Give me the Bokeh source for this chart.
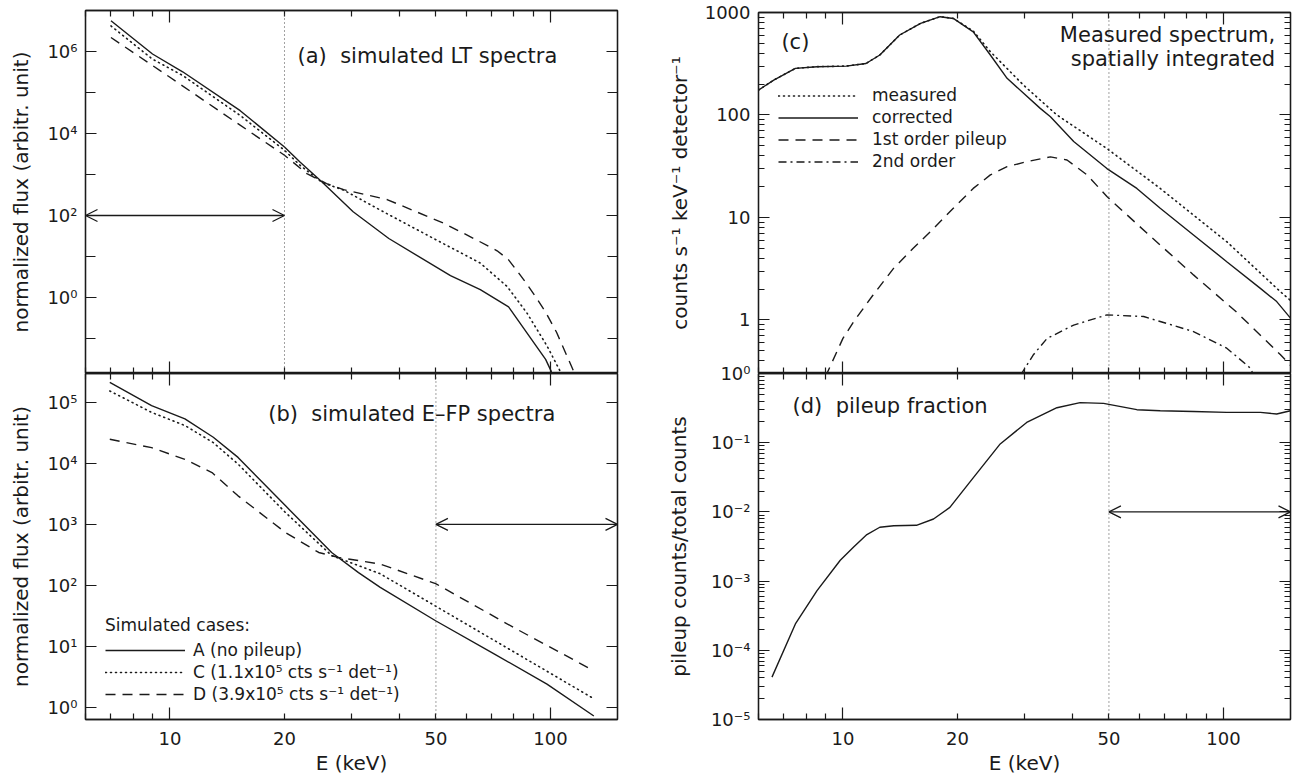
from bokeh.plotting import figure
from bokeh.models import (Range1d, LogAxis, FixedTicker, Span, Arrow, OpenHead, Label,
                          Legend, LegendItem, CustomJSTickFormatter)
from bokeh.layouts import row, column
from bokeh.embed import file_html
from bokeh.resources import INLINE

FONT = "DejaVu Sans"
INK = "#1a1a1a"

# ---------------- shared energy axis ----------------
x_range_keV = [6, 150]
x_ticks = [10, 20, 50, 100]
x_tick_labels = ["10", "20", "50", "100"]
x_decades = [10, 100]
x_minor = [6, 7, 8, 9, 20, 30, 40, 50, 60, 70, 80, 90]

# ---------------- panel (a): simulated LT spectra ----------------
a_y_range = [0.014, 1e7]
a_yticks = [1, 1e2, 1e4, 1e6]
a_ytick_labels = ["10⁰", "10²", "10⁴", "10⁶"]
a_yminor = [0.1, 10, 1e3, 1e5, 1e7]
a_E_A = [7.0, 9.0, 10.8, 15.3, 20.0, 22.0, 25.1, 30.3, 37.6, 54.6, 65.4, 77.6, 97.1, 100.4, 101.5]
a_F_A = [5.6e6, 8.7e5, 3.2e5, 3.6e4, 4.7e3, 2.0e3, 660, 123, 27.5, 3.4, 1.55, 0.59, 0.031, 0.016, 0.010]
a_E_C = [7.0, 9.0, 10.8, 15.3, 20.0, 22.0, 25.1, 28.6, 36.4, 49.3, 65.4, 76.9, 86.7, 98.0, 106.0, 107.5]
a_F_C = [4.2e6, 6.5e5, 2.6e5, 2.75e4, 3.9e3, 1.66e3, 640, 417, 123, 27.5, 6.9, 1.86, 0.42, 0.065, 0.016, 0.011]
a_E_D = [7.0, 10.0, 15.0, 20.0, 22.9, 25.8, 28.6, 37.2, 52.4, 64.1, 72.4, 77.6, 85.1, 90.3, 97.1, 103.8, 115.0, 116.5]
a_F_D = [2.2e6, 2.35e5, 1.8e4, 2.95e3, 1.05e3, 600, 427, 245, 65, 25, 13.8, 8.3, 2.7, 1.23, 0.44, 0.14, 0.016, 0.011]
a_vline_E = 20
a_arrow_E = [6, 20]
a_arrow_F = 100

# ---------------- panel (b): simulated E-FP spectra ----------------
b_y_range = [0.63, 3e5]
b_yticks = [1, 10, 1e2, 1e3, 1e4, 1e5]
b_ytick_labels = ["10⁰", "10¹", "10²", "10³", "10⁴", "10⁵"]
b_yminor = []
b_E_A = [6.95, 8.95, 10.95, 13.0, 15.1, 20.1, 26.6, 31.3, 35.7, 49.9, 70.9, 97.9, 130]
b_F_A = [2.14e5, 8.9e4, 5.4e4, 2.7e4, 1.26e4, 2.04e3, 347, 162, 93, 26.3, 7.6, 2.4, 0.72]
b_E_C = [6.95, 8.95, 10.95, 13.0, 15.1, 20.1, 26.6, 35.7, 49.9, 73.7, 97.9, 130]
b_F_C = [1.55e5, 6.9e4, 4.2e4, 2.2e4, 9.8e3, 1.58e3, 309, 155, 45.7, 11.0, 3.9, 1.38]
b_E_D = [6.95, 8.95, 10.95, 12.9, 15.1, 20.1, 24.6, 27.7, 35.7, 49.9, 80, 130]
b_F_D = [2.5e4, 1.82e4, 1.17e4, 7.1e3, 2.95e3, 741, 347, 288, 224, 107, 20.4, 3.98]
b_vline_E = 50
b_arrow_E = [50, 150]
b_arrow_F = 1000

# ---------------- panel (c): measured spectrum ----------------
c_y_range = [0.3, 1000]
c_yticks = [1, 10, 100, 1000]
c_ytick_labels = ["1", "10", "100", "1000"]
c_yminor = [k * 10.0 ** e for e in (-1, 0, 1, 2) for k in range(2, 10)]
c_E_corr = [6.0, 6.58, 7.5, 8.55, 10.2, 11.5, 12.5, 14.1, 16.0, 18.0, 19.5, 22.0, 24.4, 27.0,
            33.0, 35.1, 40.4, 49.4, 59.2, 68.2, 83.4, 102, 125, 138, 150]
c_F_corr = [175, 219, 285, 296, 300, 318, 385, 603, 784, 910, 875, 647, 385, 228,
            116, 96, 55, 30, 19.2, 12.3, 6.75, 3.7, 2.03, 1.51, 1.04]
c_E_meas = [6.0, 6.58, 7.5, 8.55, 10.2, 11.5, 12.5, 14.1, 16.0, 18.0, 19.5, 22.0, 24.4, 29.8,
            36.5, 49.4, 68.2, 102, 141, 150]
c_F_meas = [175, 219, 285, 296, 300, 318, 385, 603, 784, 910, 875, 660, 415, 196,
            100, 47, 19.2, 5.8, 1.89, 1.55]
c_E_pile1 = [9.0, 9.64, 10.0, 10.67, 12.0, 13.6, 15.3, 17.3, 19.5, 22.0, 24.4, 27.0, 30.4, 35.1,
             38.8, 43.8, 49.4, 63.0, 83.4, 108, 141, 150]
c_F_pile1 = [0.28, 0.49, 0.66, 0.96, 1.75, 3.2, 5.0, 7.8, 12.3, 19.2, 26, 31.3, 35, 39,
             36.4, 26, 16, 7.0, 2.75, 1.2, 0.46, 0.36]
c_E_pile2 = [29.3, 31.7, 34.4, 40.4, 49.4, 61.7, 83.4, 102, 117.5, 120]
c_F_pile2 = [0.29, 0.46, 0.66, 0.89, 1.12, 1.08, 0.77, 0.53, 0.34, 0.29]
c_vline_E = 50

# ---------------- panel (d): pileup fraction ----------------
d_y_range = [1e-5, 1]
d_yticks = [1e-5, 1e-4, 1e-3, 1e-2, 1e-1, 1]
d_ytick_labels = ["10⁻⁵", "10⁻⁴", "10⁻³", "10⁻²", "10⁻¹", "10⁰"]
d_yminor = [k * 10.0 ** e for e in (-5, -4, -3, -2, -1) for k in range(2, 10)]
d_E = [6.51, 7.5, 8.55, 9.84, 10.67, 11.56, 12.5, 13.6, 15.6, 17.3, 19.1, 21.6, 25.9, 30.4,
       36.5, 42.0, 48.4, 59.2, 68.2, 83.4, 102, 125, 138, 150]
d_frac = [4.1e-5, 2.4e-4, 7.3e-4, 2.0e-3, 3.1e-3, 4.7e-3, 6.0e-3, 6.3e-3, 6.4e-3, 7.9e-3, 0.0116,
          0.0274, 0.096, 0.196, 0.32, 0.38, 0.37, 0.30, 0.29, 0.283, 0.274, 0.274, 0.26, 0.29]
d_vline_E = 50
d_arrow_E = [50, 150]
d_arrow_F = 0.01

DOT = "1 4"
DASH = "10 7"
DASHDOT = "8 4 2 4"
LW = 1.4
SP2 = "\u00a0 "   # visible double space


def make_panel(width, height, yr, bl, br, bt, bb):
    p = figure(width=width, height=height, x_axis_type="log", y_axis_type="log",
               x_range=Range1d(x_range_keV[0], x_range_keV[1]), y_range=Range1d(yr[0], yr[1]),
               output_backend="svg", toolbar_location=None,
               min_border_left=bl, min_border_right=br, min_border_top=bt, min_border_bottom=bb)
    p.xgrid.visible = False
    p.ygrid.visible = False
    p.outline_line_color = INK
    p.outline_line_width = 1.3
    p.border_fill_alpha = 0
    p.background_fill_color = "white"
    return p


def style_axis(ax, ticks, minor, labels, major_len, minor_len, standoff=8, size="18px"):
    ax.ticker = FixedTicker(ticks=ticks, minor_ticks=minor)
    ax.major_tick_in = major_len
    ax.major_tick_out = 0
    ax.minor_tick_in = minor_len
    ax.minor_tick_out = 0
    ax.axis_line_color = INK
    ax.axis_line_width = 1.3
    ax.major_tick_line_color = INK
    ax.minor_tick_line_color = INK
    ax.major_tick_line_width = 1.2
    ax.minor_tick_line_width = 1.2
    if labels is None:
        ax.formatter = CustomJSTickFormatter(code="return ''")
        ax.major_label_text_font_size = "0px"
        ax.major_label_standoff = 0
    else:
        ax.major_label_overrides = dict(zip(ticks, labels))
        ax.major_label_text_font = FONT
        ax.major_label_text_font_size = size
        ax.major_label_text_color = INK
        ax.major_label_standoff = standoff
    ax.axis_label_text_font = FONT
    ax.axis_label_text_font_size = "20px"
    ax.axis_label_text_font_style = "normal"
    ax.axis_label_text_color = INK


def add_x_axes(p, labeled):
    style_axis(p.below[0], x_decades, x_minor, None, 12, 6)
    top = LogAxis()
    style_axis(top, x_decades, x_minor, None, 12, 6)
    p.add_layout(top, "above")
    if labeled:
        lab = LogAxis()
        lab.ticker = FixedTicker(ticks=x_ticks, minor_ticks=[])
        lab.major_label_overrides = dict(zip(x_ticks, x_tick_labels))
        lab.major_tick_in = 0
        lab.major_tick_out = 0
        lab.minor_tick_in = 0
        lab.minor_tick_out = 0
        lab.major_tick_line_color = None
        lab.minor_tick_line_color = None
        lab.axis_line_color = None
        lab.major_label_standoff = 12
        lab.major_label_text_font = FONT
        lab.major_label_text_font_size = "18px"
        lab.major_label_text_color = INK
        lab.axis_label = "E (keV)"
        lab.axis_label_standoff = 3
        lab.axis_label_text_font = FONT
        lab.axis_label_text_font_size = "20px"
        lab.axis_label_text_font_style = "normal"
        lab.axis_label_text_color = INK
        p.add_layout(lab, "below")


def add_y_axes(p, ticks, minor, labels, major_len, minor_len, title, title_standoff, standoff=8):
    left = p.left[0]
    style_axis(left, ticks, minor, labels, major_len, minor_len, standoff=standoff)
    left.axis_label = title
    left.axis_label_standoff = title_standoff
    right = LogAxis()
    style_axis(right, ticks, minor, None, major_len, minor_len)
    p.add_layout(right, "right")


def vline(p, loc):
    p.add_layout(Span(location=loc, dimension="height", line_color="#444444",
                      line_dash="1 3", line_width=1))


def double_arrow(p, xs, yv):
    p.add_layout(Arrow(start=OpenHead(size=12, line_color=INK, line_width=1.3),
                       end=OpenHead(size=12, line_color=INK, line_width=1.3),
                       x_start=xs[0], y_start=yv, x_end=xs[1], y_end=yv,
                       line_color=INK, line_width=1.3))


def text(p, x, y, s, align="center", size="21px"):
    p.add_layout(Label(x=x, y=y, text=s, text_align=align, text_baseline="middle",
                       text_font=FONT, text_font_size=size, text_color=INK))


def style_legend(lg, stand, lh):
    lg.border_line_color = None
    lg.background_fill_alpha = 0
    lg.padding = 0
    lg.margin = 0
    lg.spacing = 2
    lg.label_height = lh
    lg.glyph_height = lh
    lg.glyph_width = 80
    lg.label_standoff = stand
    lg.label_text_font = FONT
    lg.label_text_font_size = "17px"
    lg.label_text_color = INK
    lg.title_text_font = FONT
    lg.title_text_font_size = "17px"
    lg.title_text_font_style = "normal"
    lg.title_text_color = INK
    lg.title_standoff = 5


# ---------------- (a) ----------------
pa = make_panel(619, 373, a_y_range, 85, 2, 10, 0)
add_x_axes(pa, False)
add_y_axes(pa, a_yticks, a_yminor, a_ytick_labels, 11, 10, "normalized flux (arbitr. unit)", 11)
vline(pa, a_vline_E)
double_arrow(pa, a_arrow_E, a_arrow_F)
pa.line(a_E_A, a_F_A, line_color=INK, line_width=LW)
pa.line(a_E_C, a_F_C, line_color=INK, line_width=1.6, line_dash=DOT, line_cap="round")
pa.line(a_E_D, a_F_D, line_color=INK, line_width=LW, line_dash=DASH)
text(pa, 47.5, 7.85e5, "(a)" + SP2 + "simulated LT spectra")

# ---------------- (b) ----------------
pb = make_panel(619, 406, b_y_range, 85, 2, 0, 60)
add_x_axes(pb, True)
add_y_axes(pb, b_yticks, b_yminor, b_ytick_labels, 11, 6, "normalized flux (arbitr. unit)", 11)
vline(pb, b_vline_E)
double_arrow(pb, b_arrow_E, b_arrow_F)
rbA = pb.line(b_E_A, b_F_A, line_color=INK, line_width=LW)
rbC = pb.line(b_E_C, b_F_C, line_color=INK, line_width=1.6, line_dash=DOT, line_cap="round")
rbD = pb.line(b_E_D, b_F_D, line_color=INK, line_width=LW, line_dash=DASH)
text(pb, 43.2, 6.5e4, "(b)" + SP2 + "simulated E–FP spectra")
leg_b = Legend(items=[LegendItem(label="A (no pileup)", renderers=[rbA]),
                      LegendItem(label="C (1.1x10⁵ cts s⁻¹ det⁻¹)", renderers=[rbC]),
                      LegendItem(label="D (3.9x10⁵ cts s⁻¹ det⁻¹)", renderers=[rbD])],
               location=(20, 15), title="Simulated cases:")
style_legend(leg_b, 8, 20)
pb.add_layout(leg_b)

# ---------------- (c) ----------------
pc = make_panel(673, 373, c_y_range, 139, 2, 12, 0)
add_x_axes(pc, False)
add_y_axes(pc, c_yticks, c_yminor, c_ytick_labels, 11, 6,
           "counts s⁻¹ keV⁻¹ detector⁻¹", 10)
vline(pc, c_vline_E)
rcM = pc.line(c_E_meas, c_F_meas, line_color=INK, line_width=1.6, line_dash=DOT, line_cap="round")
rcC = pc.line(c_E_corr, c_F_corr, line_color=INK, line_width=LW)
rc1 = pc.line(c_E_pile1, c_F_pile1, line_color=INK, line_width=LW, line_dash=DASH)
rc2 = pc.line(c_E_pile2, c_F_pile2, line_color=INK, line_width=LW, line_dash=DASHDOT)
text(pc, 7.5, 519, "(c)")
text(pc, 136.7, 607, "Measured spectrum,", align="right")
text(pc, 136.7, 354, "spatially integrated", align="right")
leg_c = Legend(items=[LegendItem(label="measured", renderers=[rcM]),
                      LegendItem(label="corrected", renderers=[rcC]),
                      LegendItem(label="1st order pileup", renderers=[rc1]),
                      LegendItem(label="2nd order", renderers=[rc2])],
               location=(20, 202))
style_legend(leg_c, 14, 19)
pc.add_layout(leg_c)

# ---------------- (d) ----------------
pd = make_panel(673, 418, d_y_range, 139, 2, 12, 60)
pd.margin = (-12, 0, 0, 0)
add_x_axes(pd, True)
add_y_axes(pd, d_yticks, d_yminor, d_ytick_labels, 11, 6, "pileup counts/total counts", 17)
vline(pd, d_vline_E)
double_arrow(pd, d_arrow_E, d_arrow_F)
pd.line(d_E, d_frac, line_color=INK, line_width=LW)
text(pd, 13.3, 0.342, "(d)" + SP2 + "pileup fraction")

layout = row(column(pa, pb), column(pc, pd))
open("out.html", "w").write(file_html(layout, INLINE))
